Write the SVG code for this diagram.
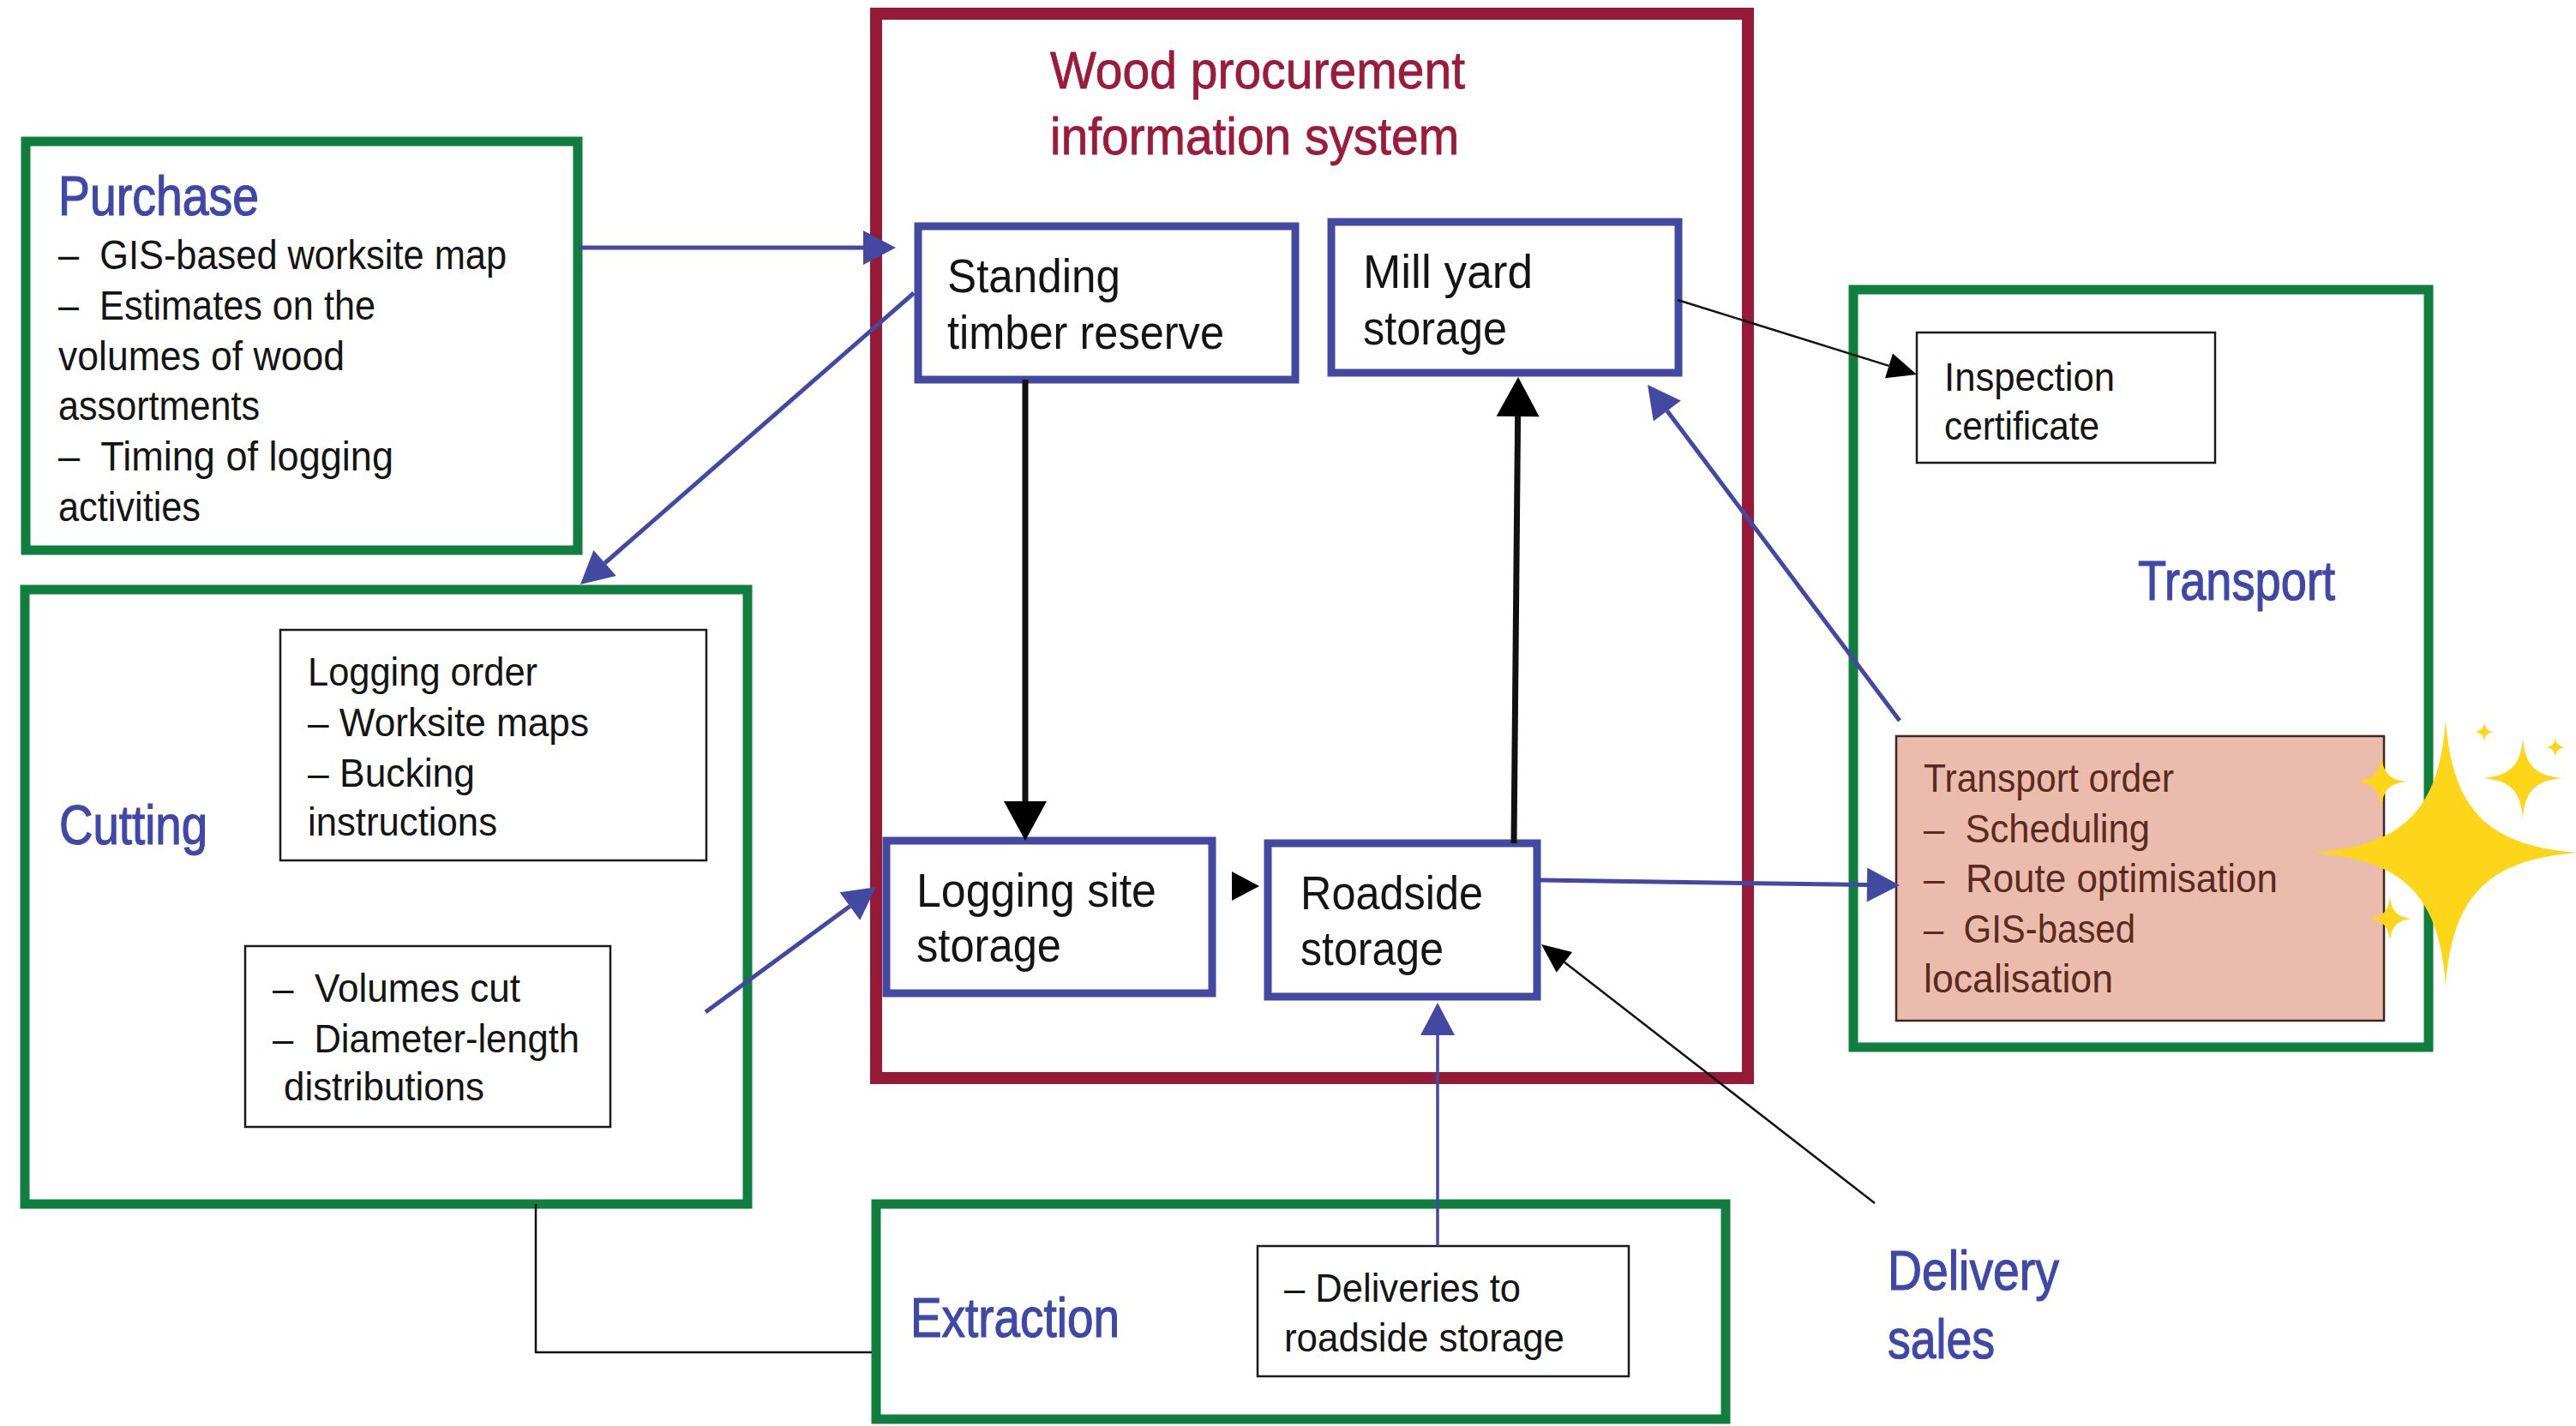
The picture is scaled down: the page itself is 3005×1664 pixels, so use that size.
<svg xmlns="http://www.w3.org/2000/svg" width="3005" height="1664" viewBox="0 0 3005 1664">
<style>
text{font-family:"Liberation Sans","DejaVu Sans",Arial,sans-serif;}
.body{font-size:48px;fill:#141414;}
.node{font-size:56px;fill:#141414;}
.small{font-size:46px;fill:#141414;}
.head{font-size:64px;fill:#3F48A6;stroke:#3F48A6;stroke-width:1.2;}
.title{font-size:62px;fill:#9B1B3A;stroke:#9B1B3A;stroke-width:0.8;}
.order{font-size:47px;fill:#5A2A20;}
.green{fill:#fff;stroke:#0F7E3F;stroke-width:11;}
.red{fill:none;stroke:#961A37;stroke-width:14;}
.blue{fill:#fff;stroke:#4349A1;stroke-width:9;}
.thin{fill:#fff;stroke:#1a1a1a;stroke-width:2.5;}
.cb{stroke:#4349A1;fill:none;}
.ck{stroke:#111;fill:none;}
.star{fill:#FDD61A;}
</style>
<defs>
<marker id="ab" markerUnits="userSpaceOnUse" markerWidth="44" markerHeight="50" viewBox="-2 -25 44 50" refX="0" refY="0" orient="auto" overflow="visible"><path d="M0,-20 L38,0 L0,20 Z" fill="#4349A1"/></marker>
<marker id="ak" markerUnits="userSpaceOnUse" markerWidth="50" markerHeight="56" viewBox="-2 -28 50 56" refX="0" refY="0" orient="auto" overflow="visible"><path d="M0,-25 L46,0 L0,25 Z" fill="#000"/></marker>
<marker id="as" markerUnits="userSpaceOnUse" markerWidth="40" markerHeight="36" viewBox="-2 -18 40 36" refX="0" refY="0" orient="auto" overflow="visible"><path d="M0,-15 L34,0 L0,15 Z" fill="#000"/></marker>
<path id="spark" d="M0,-100 C5,-32 32,-5 100,0 C32,5 5,32 0,100 C-5,32 -32,5 -100,0 C-32,-5 -5,-32 0,-100 Z"/>
</defs>

<g id="wood-procurement-system">
<rect class="red" x="1022" y="16" width="1017" height="1242"/>
<text class="title" x="1225" y="103" textLength="484" lengthAdjust="spacingAndGlyphs">Wood procurement</text>
<text class="title" x="1225" y="180" textLength="477" lengthAdjust="spacingAndGlyphs">information system</text>
</g>

<g id="purchase">
<rect class="green" x="30" y="165" width="644" height="477"/>
<text class="head" x="68" y="251" textLength="234" lengthAdjust="spacingAndGlyphs">Purchase</text>
<text class="body" xml:space="preserve" x="68" y="314" textLength="523" lengthAdjust="spacingAndGlyphs">–  GIS-based worksite map</text>
<text class="body" xml:space="preserve" x="68" y="373" textLength="370" lengthAdjust="spacingAndGlyphs">–  Estimates on the</text>
<text class="body" x="68" y="432" textLength="334" lengthAdjust="spacingAndGlyphs">volumes of wood</text>
<text class="body" x="68" y="490" textLength="235" lengthAdjust="spacingAndGlyphs">assortments</text>
<text class="body" xml:space="preserve" x="68" y="549" textLength="391" lengthAdjust="spacingAndGlyphs">–  Timing of logging</text>
<text class="body" x="68" y="608" textLength="166" lengthAdjust="spacingAndGlyphs">activities</text>
</g>

<g id="cutting">
<rect class="green" x="29" y="688" width="843" height="717"/>
<text class="head" x="69" y="985" textLength="173" lengthAdjust="spacingAndGlyphs">Cutting</text>
</g>

<g id="logging-order">
<rect class="thin" x="327" y="735" width="497" height="269"/>
<text class="small" x="359" y="800" textLength="268" lengthAdjust="spacingAndGlyphs">Logging order</text>
<text class="small" x="359" y="859" textLength="328" lengthAdjust="spacingAndGlyphs">– Worksite maps</text>
<text class="small" x="359" y="918" textLength="195" lengthAdjust="spacingAndGlyphs">– Bucking</text>
<text class="small" x="359" y="975" textLength="221" lengthAdjust="spacingAndGlyphs">instructions</text>
</g>

<g id="volumes">
<rect class="thin" x="286" y="1104" width="426" height="211"/>
<text class="small" xml:space="preserve" x="318" y="1169" textLength="289" lengthAdjust="spacingAndGlyphs">–  Volumes cut</text>
<text class="small" xml:space="preserve" x="318" y="1228" textLength="358" lengthAdjust="spacingAndGlyphs">–  Diameter-length</text>
<text class="small" x="331" y="1284" textLength="234" lengthAdjust="spacingAndGlyphs">distributions</text>
</g>

<g id="standing-timber-reserve">
<rect class="blue" x="1071" y="264" width="440" height="179"/>
<text class="node" x="1105" y="341" textLength="202" lengthAdjust="spacingAndGlyphs">Standing</text>
<text class="node" x="1105" y="407" textLength="323" lengthAdjust="spacingAndGlyphs">timber reserve</text>
</g>

<g id="mill-yard-storage">
<rect class="blue" x="1553" y="259" width="405" height="176"/>
<text class="node" x="1590" y="336" textLength="198" lengthAdjust="spacingAndGlyphs">Mill yard</text>
<text class="node" x="1590" y="402" textLength="168" lengthAdjust="spacingAndGlyphs">storage</text>
</g>

<g id="logging-site-storage">
<rect class="blue" x="1034" y="981" width="380" height="178"/>
<text class="node" x="1069" y="1058" textLength="280" lengthAdjust="spacingAndGlyphs">Logging site</text>
<text class="node" x="1069" y="1122" textLength="169" lengthAdjust="spacingAndGlyphs">storage</text>
</g>

<g id="roadside-storage">
<rect class="blue" x="1479" y="984" width="314" height="179"/>
<text class="node" x="1517" y="1061" textLength="213" lengthAdjust="spacingAndGlyphs">Roadside</text>
<text class="node" x="1517" y="1126" textLength="167" lengthAdjust="spacingAndGlyphs">storage</text>
</g>

<g id="extraction">
<rect class="green" x="1022" y="1405" width="991" height="251"/>
<text class="head" x="1062" y="1560" textLength="244" lengthAdjust="spacingAndGlyphs">Extraction</text>
</g>

<g id="deliveries">
<rect class="thin" x="1467" y="1454" width="433" height="152"/>
<text class="small" x="1498" y="1519" textLength="276" lengthAdjust="spacingAndGlyphs">– Deliveries to</text>
<text class="small" x="1498" y="1577" textLength="327" lengthAdjust="spacingAndGlyphs">roadside storage</text>
</g>

<g id="transport">
<rect class="green" x="2162" y="338" width="671" height="884"/>
<text class="head" x="2494" y="700" textLength="230" lengthAdjust="spacingAndGlyphs">Transport</text>
</g>

<g id="inspection-certificate">
<rect class="thin" x="2236" y="388" width="348" height="152"/>
<text class="small" x="2268" y="456" textLength="199" lengthAdjust="spacingAndGlyphs">Inspection</text>
<text class="small" x="2268" y="513" textLength="181" lengthAdjust="spacingAndGlyphs">certificate</text>
</g>

<g id="transport-order">
<rect x="2212" y="859" width="569" height="332" fill="#EBBCAE" stroke="#3a2622" stroke-width="2.5"/>
<text class="order" x="2244" y="924" textLength="292" lengthAdjust="spacingAndGlyphs">Transport order</text>
<text class="order" xml:space="preserve" x="2244" y="983" textLength="264" lengthAdjust="spacingAndGlyphs">–  Scheduling</text>
<text class="order" xml:space="preserve" x="2244" y="1041" textLength="413" lengthAdjust="spacingAndGlyphs">–  Route optimisation</text>
<text class="order" xml:space="preserve" x="2244" y="1100" textLength="247" lengthAdjust="spacingAndGlyphs">–  GIS-based</text>
<text class="order" x="2244" y="1158" textLength="221" lengthAdjust="spacingAndGlyphs">localisation</text>
</g>

<g id="delivery-sales">
<text class="head" x="2202" y="1505" font-size="60" textLength="200" lengthAdjust="spacingAndGlyphs">Delivery</text>
<text class="head" x="2202" y="1585" font-size="60" textLength="125" lengthAdjust="spacingAndGlyphs">sales</text>
</g>

<g id="connectors">
<line class="cb" x1="675" y1="289" x2="1007" y2="289" stroke-width="5" marker-end="url(#ab)"/>
<line class="cb" x1="1066" y1="342" x2="705.6" y2="657" stroke-width="5" marker-end="url(#ab)"/>
<line class="cb" x1="823" y1="1181" x2="991.4" y2="1057.5" stroke-width="5" marker-end="url(#ab)"/>
<line class="ck" x1="1196" y1="443" x2="1196" y2="935" stroke-width="7" marker-end="url(#ak)"/>
<path d="M1437,1017 L1469,1034 L1437,1051 Z" fill="#000"/>
<line class="ck" x1="1766" y1="984" x2="1770.6" y2="486" stroke-width="7" marker-end="url(#ak)"/>
<line class="ck" x1="1957" y1="350" x2="2203.5" y2="426.9" stroke-width="2.5" marker-end="url(#as)"/>
<line class="cb" x1="1797" y1="1027" x2="2178" y2="1032.5" stroke-width="5" marker-end="url(#ab)"/>
<line class="cb" x1="2216" y1="841" x2="1944.8" y2="479.4" stroke-width="5" marker-end="url(#ab)"/>
<line class="cb" x1="1677" y1="1454" x2="1677" y2="1208" stroke-width="3.5" marker-end="url(#ab)"/>
<line class="ck" x1="2187" y1="1404" x2="1824.9" y2="1122.8" stroke-width="2.5" marker-end="url(#as)"/>
<polyline class="ck" points="625,1405 625,1578 1017,1578" stroke-width="2.5"/>
</g>

<g id="sparkles">
<use href="#spark" class="star" transform="translate(2853,995) scale(1.55)"/>
<use href="#spark" class="star" transform="translate(2778,912) scale(0.31)"/>
<use href="#spark" class="star" transform="translate(2788,1072) scale(0.27)"/>
<use href="#spark" class="star" transform="translate(2943,908) scale(0.47)"/>
<use href="#spark" class="star" transform="translate(2898,854) scale(0.12)"/>
<use href="#spark" class="star" transform="translate(2981,872) scale(0.12)"/>
</g>
</svg>
